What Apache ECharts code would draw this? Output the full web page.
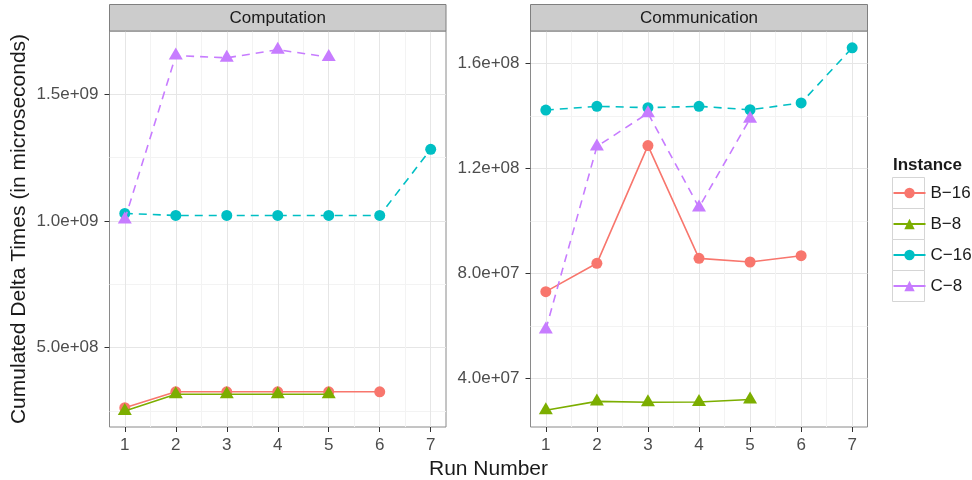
<!DOCTYPE html>
<html>
<head>
<meta charset="utf-8">
<script src="https://cdn.jsdelivr.net/npm/echarts@6/dist/echarts.min.js"></script>
<style>
html,body{margin:0;padding:0;background:#fff;}
#chart{width:972px;height:480px;}
</style>
</head>
<body>
<div id="chart"></div>
<script>
// ---------- data ----------
const runs = [1, 2, 3, 4, 5, 6, 7];
const instances = ['B\u221216', 'B\u22128', 'C\u221216', 'C\u22128'];
const panelTitles = ['Computation', 'Communication'];

// Computation panel (microseconds)
const compB16 = [2.63e8, 3.26e8, 3.26e8, 3.26e8, 3.26e8, 3.26e8];
const compB8  = [2.50e8, 3.16e8, 3.16e8, 3.16e8, 3.16e8];
const compC16 = [1.030e9, 1.022e9, 1.022e9, 1.022e9, 1.022e9, 1.022e9, 1.283e9];
const compC8  = [1.006e9, 1.653e9, 1.644e9, 1.676e9, 1.647e9];

// Communication panel (microseconds)
const commB16 = [7.30e7, 8.38e7, 1.2865e8, 8.57e7, 8.43e7, 8.67e7];
const commB8  = [2.78e7, 3.12e7, 3.09e7, 3.10e7, 3.19e7];
const commC16 = [1.422e8, 1.436e8, 1.431e8, 1.436e8, 1.423e8, 1.449e8, 1.659e8];
const commC8  = [5.86e7, 1.283e8, 1.410e8, 1.051e8, 1.389e8];

// axes
const xRange = [0.7, 7.3];
const xTicks = [1, 2, 3, 4, 5, 6, 7];
const xMinor = [1.5, 2.5, 3.5, 4.5, 5.5, 6.5];
const yRangeComp = [1.87e8, 1.75e9];
const yTicksComp = [5e8, 1e9, 1.5e9];
const yTickLabelsComp = ['5.0e+08', '1.0e+09', '1.5e+09'];
const yMinorComp = [2.5e8, 7.5e8, 1.25e9];
const yRangeComm = [2.145e7, 1.723e8];
const yTicksComm = [4e7, 8e7, 1.2e8, 1.6e8];
const yTickLabelsComm = ['4.0e+07', '8.0e+07', '1.2e+08', '1.6e+08'];
const yMinorComm = [6e7, 1e8, 1.4e8];

// ---------- styling ----------
const FONT = "'Liberation Sans', Arial, sans-serif";
const colors = ['#F8766D', '#7CAE00', '#00BFC4', '#C77CFF'];
const symbols = ['circle', 'triangle', 'circle', 'triangle'];
const lineTypes = ['solid', 'solid', [8, 6], [8, 6]];
const grids = [
  {left: 109.5, top: 31, width: 336.5, height: 396},
  {left: 530.5, top: 31, width: 337, height: 396}
];

function pairs(vals) { return vals.map((v, i) => [runs[i], v]); }

const majorLine = {show: true, lineStyle: {color: '#E6E6E6', width: 1}};
const minorLine = {show: true, lineStyle: {color: '#F3F3F3', width: 1}};
const tickStyle = {show: true, length: 5, inside: false, lineStyle: {color: '#333333', width: 1}};
const labelStyle = {color: '#4D4D4D', fontSize: 17, fontFamily: FONT};

const xAxes = [], yAxes = [];
[0, 1].forEach(g => {
  xAxes.push({
    type: 'value', gridIndex: g, min: xRange[0], max: xRange[1],
    axisLine: {show: false},
    axisTick: Object.assign({customValues: xTicks}, tickStyle),
    axisLabel: Object.assign({customValues: xTicks, margin: 10, formatter: v => String(v)}, labelStyle),
    splitLine: majorLine
  });
  xAxes.push({
    type: 'value', gridIndex: g, min: xRange[0], max: xRange[1],
    axisLine: {show: false},
    axisTick: {show: false, customValues: xMinor},
    axisLabel: {show: false},
    splitLine: minorLine
  });
});
[[yRangeComp, yTicksComp, yTickLabelsComp, yMinorComp], [yRangeComm, yTicksComm, yTickLabelsComm, yMinorComm]].forEach((cfg, g) => {
  const [rng, ticks, labels, minor] = cfg;
  const ax = {
    type: 'value', gridIndex: g, min: rng[0], max: rng[1],
    axisLine: {show: false},
    axisTick: Object.assign({customValues: ticks}, tickStyle),
    axisLabel: Object.assign({customValues: ticks, margin: 11,
      formatter: v => { const i = ticks.indexOf(v); return i >= 0 ? labels[i] : ''; }}, labelStyle),
    splitLine: majorLine
  };
  if (g === 0) {
    ax.name = 'Cumulated Delta Times (in microseconds)';
    ax.nameLocation = 'middle';
    ax.nameGap = 80;
    ax.nameTextStyle = {fontSize: 21, color: '#1A1A1A', fontFamily: FONT};
  }
  yAxes.push(ax);
  yAxes.push({
    type: 'value', gridIndex: g, min: rng[0], max: rng[1],
    axisLine: {show: false},
    axisTick: {show: false, customValues: minor},
    axisLabel: {show: false},
    splitLine: minorLine
  });
});

const panelData = [
  [compB16, compB8, compC16, compC8],
  [commB16, commB8, commC16, commC8]
];
const series = [];
panelData.forEach((sets, g) => {
  sets.forEach((vals, k) => {
    const tri = symbols[k] === 'triangle';
    series.push({
      name: instances[k], type: 'line',
      xAxisIndex: g * 2, yAxisIndex: g * 2,
      data: pairs(vals),
      symbol: symbols[k],
      symbolSize: tri ? [14, 12] : 11,
      symbolOffset: tri ? [0, -2] : [0, 0],
      showSymbol: true,
      lineStyle: {color: colors[k], width: 1.6, type: lineTypes[k]},
      itemStyle: {color: colors[k], borderWidth: 0},
      emphasis: {disabled: true},
      animation: false,
      z: 2 + k
    });
  });
});

const graphics = [];
grids.forEach((gr, g) => {
  graphics.push({
    type: 'rect', shape: {x: gr.left, y: 4.5, width: gr.width, height: 26.5},
    style: {fill: '#CCCCCC', stroke: '#7F7F7F', lineWidth: 1}, z: 10
  });
  graphics.push({
    type: 'text', x: gr.left + gr.width / 2, y: 18,
    style: {text: panelTitles[g], fill: '#1A1A1A', font: '17px ' + FONT, textAlign: 'center', textVerticalAlign: 'middle'}, z: 11
  });
});
for (let i = 0; i < 4; i++) {
  graphics.push({
    type: 'rect', shape: {x: 892.5, y: 177.5 + i * 31, width: 32, height: 31},
    style: {fill: '#FFFFFF', stroke: '#D5D5D5', lineWidth: 1}, z: 0
  });
}
graphics.push({
  type: 'text', x: 893, y: 165,
  style: {text: 'Instance', fill: '#1A1A1A', font: 'bold 17px ' + FONT, textAlign: 'left', textVerticalAlign: 'middle'}
});
graphics.push({
  type: 'text', x: 488.5, y: 469,
  style: {text: 'Run Number', fill: '#1A1A1A', font: '21px ' + FONT, textAlign: 'center', textVerticalAlign: 'middle'}
});

const chart = echarts.init(document.getElementById('chart'), null, {renderer: 'canvas'});
chart.setOption({
  animation: false,
  backgroundColor: '#FFFFFF',
  grid: grids.map(gr => Object.assign({show: true, borderColor: '#8A8A8A', borderWidth: 1, backgroundColor: 'transparent', containLabel: false}, gr)),
  xAxis: xAxes,
  yAxis: yAxes,
  legend: {
    data: instances, orient: 'vertical', left: 892.5, top: 184.5, padding: 0,
    itemWidth: 32, itemHeight: 13, itemGap: 14,
    lineStyle: {type: 'solid'},
    textStyle: {fontSize: 17, color: '#1A1A1A', fontFamily: FONT, lineHeight: 17, padding: [0, 0, 0, 0]},
    selectedMode: false
  },
  graphic: graphics,
  series: series
});
</script>
</body>
</html>
